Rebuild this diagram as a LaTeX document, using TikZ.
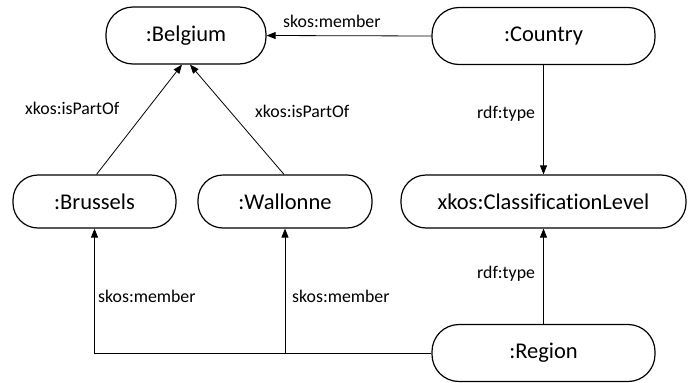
\documentclass[tikz,border=0pt]{standalone}
\usepackage{fontspec}
\setmainfont[Ligatures=CommonOff]{Carlito}
\usetikzlibrary{arrows.meta,calc}
\begin{document}
\begin{tikzpicture}[x=1pt,y=-1pt,
  term/.style={draw, fill=white, line width=1.2pt, inner sep=0pt,
    font=\fontsize{22.5}{27}\selectfont},
  upper/.style={term, rounded corners=27pt, minimum height=57pt},
  middle/.style={term, rounded corners=25pt, minimum height=53pt},
  rel/.style={line width=0.8pt, -{Triangle[length=9pt,width=7pt]}},
  lbl/.style={anchor=base west, inner sep=0pt,
    font=\fontsize{17.8}{21}\selectfont}]
\useasboundingbox (0,0) rectangle (694,383);

% resources
\node[upper, minimum width=160pt] (Belgium) at (186,35.5) {:Belgium};
\node[upper, minimum width=223pt] (Country) at (543.5,36) {:Country};
\node[middle, minimum width=163pt] (Brussels) at (94.5,201.5) {:Brussels};
\node[middle, minimum width=174pt] (Wallonne) at (285,201.5) {:Wallonne};
\node[middle, minimum width=285pt] (Level) at (543.5,201.5) {xkos:ClassificationLevel};
\node[upper, minimum width=223pt] (Region) at (543.5,353) {:Region};

% properties
\draw[rel] (Country.west) -- (Belgium.east);
\draw[rel] ($(Brussels.north)+(2,0)$) -- ($(Belgium.south)+(-4,0)$);
\draw[rel] ($(Wallonne.north)+(-1,0)$) -- ($(Belgium.south)+(4,0)$);
\draw[rel] (Country.south) -- (Level.north);
\draw[rel] (Region.north) -- (Level.south);
\coordinate (split) at (Region.west -| Wallonne.south);
\draw[rel] (Region.west) -| (Brussels.south);
\draw[rel] (split) -- (Wallonne.south);

% property labels
\node[lbl] (lmemb) at (283,27) {skos:member};
\node[lbl] (lpartA) at (25,114) {xkos:isPartOf};
\node[lbl] (lpartB) at (255,117) {xkos:isPartOf};
\node[lbl] (ltypeA) at (477,118) {rdf:type};
\node[lbl] (ltypeB) at (477,278) {rdf:type};
\node[lbl] (lmembA) at (98,302) {skos:member};
\node[lbl] (lmembB) at (292,302) {skos:member};
\end{tikzpicture}
\end{document}
